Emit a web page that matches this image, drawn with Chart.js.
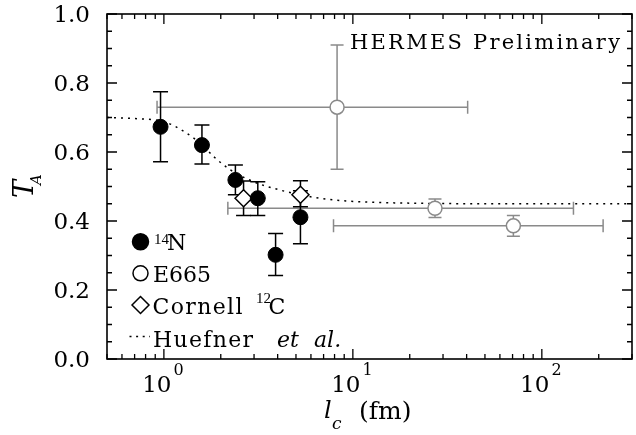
<!DOCTYPE html>
<html>
<head>
<meta charset="utf-8">
<script src="https://cdn.jsdelivr.net/npm/chart.js@4.4.0/dist/chart.umd.min.js"></script>
<style>
html, body { margin: 0; padding: 0; background: #fff; overflow: hidden; }
#wrap { width: 636px; height: 435px; overflow: hidden; position: relative; }
#plot { position: absolute; left: 0; top: 0; }
</style>
</head>
<body>
<div id="wrap"><canvas id="plot" width="642" height="435"></canvas></div>
<script>
// 14N points (filled circles)
const nitrogenX = [0.96, 1.59, 2.39, 3.14, 3.90, 5.28];
const nitrogenY = [0.673, 0.620, 0.519, 0.466, 0.302, 0.411];
const nitrogenErrUp = [0.102, 0.058, 0.043, 0.048, 0.062, 0.077];
const nitrogenErrDown = [0.101, 0.055, 0.043, 0.050, 0.060, 0.077];

// Cornell 12C points (diamonds)
const cornellX = [2.64, 5.28];
const cornellY = [0.466, 0.476];
const cornellErrUp = [0.050, 0.041];
const cornellErrDown = [0.050, 0.035];

// E665 points (open circles, grey)
const e665X = [27.2, 70.7];
const e665Y = [0.437, 0.386];
const e665ErrY = [0.027, 0.030];
const e665XLow = [2.18, 7.9];
const e665XHigh = [147, 211];

// HERMES preliminary point
const hermesX = [8.25];
const hermesY = [0.730];
const hermesErrY = [0.180];
const hermesXLow = [0.92];
const hermesXHigh = [40.5];

// Huefner et al. calculation
const huefnerX = [0.5, 0.7, 1.0, 1.28, 1.6, 1.84, 2.25, 2.98, 4.1, 6.15, 9.2, 13.2, 25, 60, 300];
const huefnerY = [0.700, 0.697, 0.688, 0.659, 0.620, 0.586, 0.548, 0.514, 0.490, 0.469, 0.458, 0.454, 0.451, 0.450, 0.450];

// axis ticks
const yTickValues = [0, 0.2, 0.4, 0.6, 0.8, 1.0];
const yTickLabels = ['0.0', '0.2', '0.4', '0.6', '0.8', '1.0'];
const xTickValues = [1, 10, 100];
const xTickExponents = ['0', '1', '2'];

const GREY = '#8a8a8a';
const SERIF = '"DejaVu Serif", serif';
const SMALL = '"Liberation Serif", serif';

function pts(xs, ys) {
    return xs.map((x, i) => ({ x: x, y: ys[i] }));
}

// draw text, optionally spreading the letters to fill a given width
function text(ctx, s, x, y, font, width) {
    ctx.font = font;
    ctx.textAlign = 'left';
    ctx.letterSpacing = '0px';
    if (width && s.length > 1) {
        const w = ctx.measureText(s).width;
        ctx.letterSpacing = Math.max(0, (width - w) / (s.length - 1)) + 'px';
    }
    ctx.fillText(s, x, y);
    ctx.letterSpacing = '0px';
}

function vBar(ctx, x, y0, y1, cap) {
    ctx.beginPath();
    ctx.moveTo(x, y0); ctx.lineTo(x, y1);
    ctx.moveTo(x - cap, y0); ctx.lineTo(x + cap, y0);
    ctx.moveTo(x - cap, y1); ctx.lineTo(x + cap, y1);
    ctx.stroke();
}

function hBar(ctx, y, x0, x1, cap) {
    ctx.beginPath();
    ctx.moveTo(x0, y); ctx.lineTo(x1, y);
    ctx.moveTo(x0, y - cap); ctx.lineTo(x0, y + cap);
    ctx.moveTo(x1, y - cap); ctx.lineTo(x1, y + cap);
    ctx.stroke();
}

const errorBars = {
    id: 'errorBars',
    beforeDatasetsDraw(chart) {
        const ctx = chart.ctx, xs = chart.scales.x, ys = chart.scales.y;
        ctx.save();
        ctx.lineWidth = 1.5;

        ctx.strokeStyle = GREY;
        e665X.forEach((x, i) => {
            const px = xs.getPixelForValue(x), py = ys.getPixelForValue(e665Y[i]);
            hBar(ctx, py, xs.getPixelForValue(e665XLow[i]), xs.getPixelForValue(e665XHigh[i]), 6.5);
            vBar(ctx, px, ys.getPixelForValue(e665Y[i] + e665ErrY[i]), ys.getPixelForValue(e665Y[i] - e665ErrY[i]), 6.5);
        });
        hermesX.forEach((x, i) => {
            const px = xs.getPixelForValue(x), py = ys.getPixelForValue(hermesY[i]);
            hBar(ctx, py, xs.getPixelForValue(hermesXLow[i]), xs.getPixelForValue(hermesXHigh[i]), 6.5);
            vBar(ctx, px, ys.getPixelForValue(hermesY[i] + hermesErrY[i]), ys.getPixelForValue(hermesY[i] - hermesErrY[i]), 6.5);
        });

        ctx.strokeStyle = '#000';
        nitrogenX.forEach((x, i) => {
            vBar(ctx, xs.getPixelForValue(x),
                ys.getPixelForValue(nitrogenY[i] + nitrogenErrUp[i]),
                ys.getPixelForValue(nitrogenY[i] - nitrogenErrDown[i]), 7.5);
        });
        cornellX.forEach((x, i) => {
            vBar(ctx, xs.getPixelForValue(x),
                ys.getPixelForValue(cornellY[i] + cornellErrUp[i]),
                ys.getPixelForValue(cornellY[i] - cornellErrDown[i]), 7.5);
        });
        ctx.restore();
    }
};

const frame = {
    id: 'frame',
    afterDraw(chart) {
        const ctx = chart.ctx, xs = chart.scales.x, ys = chart.scales.y;
        const a = chart.chartArea;
        ctx.save();
        ctx.strokeStyle = '#000';
        ctx.fillStyle = '#000';
        ctx.lineWidth = 1.6;
        ctx.strokeRect(a.left, a.top, a.right - a.left, a.bottom - a.top);

        // inward ticks on all four sides
        ctx.lineWidth = 1.3;
        ctx.beginPath();
        for (let dec = -1; dec <= 2; dec++) {
            for (let m = 1; m <= 9; m++) {
                const v = m * Math.pow(10, dec);
                if (v < xs.min || v > xs.max) continue;
                const px = xs.getPixelForValue(v);
                const len = m === 1 ? 10 : 5;
                ctx.moveTo(px, a.bottom); ctx.lineTo(px, a.bottom - len);
                ctx.moveTo(px, a.top); ctx.lineTo(px, a.top + len);
            }
        }
        for (let k = 0; k <= 20; k++) {
            const v = k * 0.05;
            const py = ys.getPixelForValue(v);
            const len = k % 4 === 0 ? 10 : 5;
            ctx.moveTo(a.left, py); ctx.lineTo(a.left + len, py);
            ctx.moveTo(a.right, py); ctx.lineTo(a.right - len, py);
        }
        ctx.stroke();

        // y tick labels
        ctx.font = '23px ' + SERIF;
        ctx.textAlign = 'right';
        yTickValues.forEach((v, i) => {
            ctx.fillText(yTickLabels[i], a.left - 17, ys.getPixelForValue(v) + 8.4);
        });

        // x tick labels as powers of ten
        xTickValues.forEach((v, i) => {
            const px = xs.getPixelForValue(v);
            ctx.textAlign = 'left';
            ctx.font = '23px ' + SERIF;
            const wb = ctx.measureText('10').width;
            ctx.font = '16px ' + SERIF;
            const we = ctx.measureText(xTickExponents[i]).width;
            const x0 = px - (wb + 2 + we) / 2 - 1;
            ctx.font = '23px ' + SERIF;
            ctx.fillText('10', x0, 391.5);
            ctx.font = '16px ' + SERIF;
            ctx.fillText(xTickExponents[i], x0 + wb + 2, 375);
        });

        // axis titles
        text(ctx, 'l', 324, 418, 'italic 24px ' + SERIF);
        text(ctx, 'c', 332, 429, 'italic 17px ' + SERIF);
        text(ctx, '(fm)', 359, 419, '25px ' + SERIF);

        ctx.save();
        ctx.translate(33, 198);
        ctx.rotate(-Math.PI / 2);
        text(ctx, 'T', 0, 0, 'italic 27px ' + SERIF);
        text(ctx, 'A', 13, 8, 'italic 15px ' + SERIF);
        ctx.restore();

        text(ctx, 'HERMES Preliminary', 350, 48.5, '21px ' + SERIF, 270);

        // legend
        const drawPoint = Chart.helpers.drawPoint;
        ctx.lineWidth = 1.5;
        ctx.strokeStyle = '#000';
        ctx.fillStyle = '#000';
        drawPoint(ctx, { pointStyle: 'circle', radius: 8, borderWidth: 1.5 }, 140.5, 241.7);
        ctx.fillStyle = '#fff';
        drawPoint(ctx, { pointStyle: 'circle', radius: 7.5, borderWidth: 1.5 }, 140.5, 273.3);
        drawPoint(ctx, { pointStyle: 'rectRot', radius: 8.5, borderWidth: 1.5 }, 140.5, 305);
        ctx.fillStyle = '#000';
        ctx.setLineDash([2, 4.6]);
        ctx.beginPath();
        ctx.moveTo(129.5, 336.5); ctx.lineTo(150, 336.5);
        ctx.stroke();
        ctx.setLineDash([]);

        text(ctx, '14', 154, 244, '15px ' + SMALL);
        text(ctx, 'N', 167, 250, '22px ' + SERIF);
        text(ctx, 'E665', 153, 281.7, '22px ' + SERIF, 57);
        text(ctx, 'Cornell', 152.5, 313.8, '22px ' + SERIF, 90);
        text(ctx, '12', 256, 303, '15px ' + SMALL);
        text(ctx, 'C', 268.5, 313.8, '22px ' + SERIF);
        text(ctx, 'Huefner', 153, 346.7, '22px ' + SERIF, 100);
        text(ctx, 'et', 277, 346.7, 'italic 22px ' + SERIF);
        text(ctx, 'al.', 314, 346.7, 'italic 22px ' + SERIF);
        ctx.restore();
    }
};

const ctx = document.getElementById('plot').getContext('2d');
new Chart(ctx, {
    type: 'scatter',
    data: {
        datasets: [
            {
                label: 'Huefner et al.',
                type: 'line',
                data: pts(huefnerX, huefnerY),
                borderColor: '#000',
                borderWidth: 1.5,
                borderDash: [2, 5],
                pointRadius: 0,
                cubicInterpolationMode: 'monotone',
                fill: false,
                order: 5
            },
            {
                label: 'HERMES',
                data: pts(hermesX, hermesY),
                pointStyle: 'circle',
                pointRadius: 7,
                backgroundColor: '#fff',
                borderColor: GREY,
                borderWidth: 1.5,
                order: 2
            },
            {
                label: 'E665',
                data: pts(e665X, e665Y),
                pointStyle: 'circle',
                pointRadius: 7,
                backgroundColor: '#fff',
                borderColor: GREY,
                borderWidth: 1.5,
                order: 2
            },
            {
                label: 'Cornell 12C',
                data: pts(cornellX, cornellY),
                pointStyle: 'rectRot',
                pointRadius: 8.5,
                backgroundColor: '#fff',
                borderColor: '#000',
                borderWidth: 1.5,
                order: 1
            },
            {
                label: '14N',
                data: pts(nitrogenX, nitrogenY),
                pointStyle: 'circle',
                pointRadius: 7.5,
                backgroundColor: '#000',
                borderColor: '#000',
                borderWidth: 1,
                order: 0
            }
        ]
    },
    options: {
        responsive: false,
        animation: false,
        events: [],
        layout: { padding: { left: 107, top: 14, right: 3, bottom: 76 } },
        plugins: { legend: { display: false }, tooltip: { enabled: false } },
        scales: {
            x: { type: 'logarithmic', min: 0.5, max: 300, display: false },
            y: { type: 'linear', min: 0, max: 1, display: false }
        }
    },
    plugins: [errorBars, frame]
});
</script>
</body>
</html>
